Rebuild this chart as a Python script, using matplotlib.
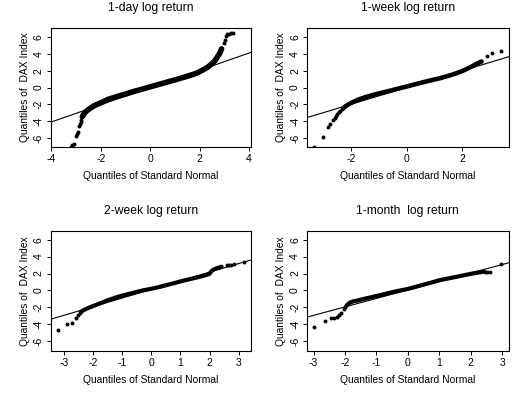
import matplotlib
matplotlib.use("Agg")
import matplotlib.pyplot as plt

plt.rcParams['font.family'] = ['Liberation Sans', 'DejaVu Sans']
plt.rcParams['axes.unicode_minus'] = False

titles = ["1-day log return", "1-week log return", "2-week log return", "1-month  log return"]

# dense middle part of each QQ curve (theoretical quantile, sample quantile)
day_body_x = [-2.75, -2.69, -2.62, -2.55, -2.45, -2.35, -2.2, -2.0, -1.7, -1.34, -1.0, -0.67, -0.33, 0.0,
              0.33, 0.67, 1.0, 1.34, 1.6, 1.88, 2.05, 2.21, 2.35, 2.48, 2.6, 2.69, 2.76, 2.82, 2.89]
day_body_y = [-3.45, -3.16, -2.9, -2.72, -2.5, -2.3, -2.05, -1.82, -1.4, -1.06, -0.78, -0.47, -0.2, 0.08,
              0.35, 0.63, 0.9, 1.19, 1.42, 1.7, 1.95, 2.2, 2.45, 2.77, 3.1, 3.48, 3.8, 4.07, 4.58]
day_tail_x = [-3.2, -3.15, -3.1, -3.0, -2.97, -2.93, -2.88, -2.85, -2.82, -2.79,
              2.98, 3.02, 3.06, 3.12, 3.2, 3.29, 3.35]
day_tail_y = [-7.0, -6.85, -6.65, -5.75, -5.55, -5.3, -4.6, -4.35, -4.05, -3.8,
              5.25, 5.65, 6.05, 6.28, 6.35, 6.4, 6.42]

week_body_x = [-2.28, -2.2, -2.1, -2.0, -1.8, -1.5, -1.2, -0.9, -0.6, -0.3, 0.0, 0.3, 0.6, 0.9,
               1.2, 1.5, 1.8, 2.0, 2.2, 2.4, 2.58, 2.7]
week_body_y = [-2.45, -2.2, -2.0, -1.82, -1.5, -1.15, -0.87, -0.62, -0.38, -0.12, 0.12, 0.38, 0.63, 0.87,
               1.1, 1.38, 1.7, 1.95, 2.25, 2.58, 2.9, 3.08]
week_tail_x = [-3.36, -3.03, -2.86, -2.76, -2.67, -2.6, -2.55, -2.5, -2.45, -2.4, -2.35, 2.88, 3.06, 3.39]
week_tail_y = [-7.0, -5.85, -4.7, -4.34, -3.83, -3.6, -3.4, -3.16, -2.95, -2.77, -2.6, 3.79, 4.07, 4.27]

twoweek_body_x = [-2.42, -2.31, -2.15, -2.0, -1.74, -1.45, -1.17, -0.88, -0.6, -0.3, 0.0, 0.3, 0.54, 0.82,
                  1.1, 1.4, 1.67, 1.85, 1.99, 2.07, 2.15, 2.24, 2.41]
twoweek_body_y = [-2.55, -2.3, -2.05, -1.85, -1.5, -1.1, -0.78, -0.5, -0.26, 0.0, 0.2, 0.43, 0.65, 0.9,
                  1.16, 1.4, 1.63, 1.8, 1.95, 2.3, 2.5, 2.62, 2.81]
twoweek_tail_x = [-3.2, -2.88, -2.71, -2.58, -2.5, -2.46, 2.58, 2.66, 2.72, 2.83, 3.17]
twoweek_tail_y = [-4.66, -3.99, -3.87, -3.28, -2.89, -2.7, 2.97, 3.0, 3.05, 3.09, 3.4]

month_body_x = [-1.96, -1.9, -1.85, -1.75, -1.62, -1.35, -1.09, -0.82, -0.56, -0.3, 0.0, 0.25, 0.5, 0.77,
                1.04, 1.3, 1.57, 1.85, 2.1, 2.3, 2.42]
month_body_y = [-1.83, -1.6, -1.44, -1.3, -1.2, -0.95, -0.73, -0.5, -0.26, -0.04, 0.18, 0.43, 0.69, 0.96,
                1.24, 1.43, 1.63, 1.85, 2.03, 2.15, 2.22]
month_tail_x = [-3.0, -2.63, -2.45, -2.36, -2.25, -2.18, -2.12, -2.04, -2.0, 2.47, 2.52, 2.61, 2.97]
month_tail_y = [-4.35, -3.56, -3.28, -3.2, -3.09, -2.89, -2.62, -2.22, -2.0, 2.15, 2.2, 2.18, 3.09]

# reference lines (intercept, slope)
line_params = [(0.0, 1.02), (0.0, 0.99), (0.12, 1.02), (0.06, 1.0)]

xlims = [(-4.03, 4.07), (-3.6, 3.68), (-3.45, 3.41), (-3.21, 3.21)]
xticks = [[-4, -2, 0, 2, 4], [-2, 0, 2], [-3, -2, -1, 0, 1, 2, 3], [-3, -2, -1, 0, 1, 2, 3]]
ylims = [(-7.05, 7.05), (-7.05, 7.05), (-7.15, 7.06), (-7.15, 7.06)]

bodies = [(day_body_x, day_body_y), (week_body_x, week_body_y),
          (twoweek_body_x, twoweek_body_y), (month_body_x, month_body_y)]
tails = [(day_tail_x, day_tail_y), (week_tail_x, week_tail_y),
         (twoweek_tail_x, twoweek_tail_y), (month_tail_x, month_tail_y)]
band_lw = [4.0, 3.3, 3.0, 3.0]

W, H = 524, 396
fig = plt.figure(figsize=(W / 100, H / 100), dpi=100)

# axes boxes in pixels: left, top, right, bottom
boxes = [(50.7, 28, 250.7, 147), (307, 28, 508.7, 147),
         (50.7, 230.7, 250.7, 351), (307, 230.7, 508.7, 351)]

for i in range(4):
    l, t, r, b = boxes[i]
    ax = fig.add_axes([l / W, 1 - b / H, (r - l) / W, (b - t) / H])
    x0, x1 = xlims[i]
    a, s = line_params[i]
    ax.plot([x0, x1], [a + s * x0, a + s * x1], color='black', lw=0.8)
    bx, by = bodies[i]
    ax.plot(bx, by, color='black', lw=band_lw[i], solid_capstyle='round', solid_joinstyle='round')
    tx, ty = tails[i]
    ax.scatter(tx, ty, s=8, color='black', linewidths=0)
    ax.set_xlim(xlims[i])
    ax.set_ylim(ylims[i])
    ax.set_xticks(xticks[i])
    ax.set_yticks([-6, -4, -2, 0, 2, 4, 6])
    ax.tick_params(labelsize=7.5, length=3, width=0.7, pad=2)
    for lab in ax.get_yticklabels():
        lab.set_rotation(90)
        lab.set_va('center')
    for sp in ax.spines.values():
        sp.set_linewidth(0.8)
    ax.set_title(titles[i], fontsize=8.7, pad=12)
    ax.set_xlabel('Quantiles of Standard Normal', fontsize=7.4, labelpad=5)
    ax.set_ylabel('Quantiles of  DAX Index', fontsize=7.4, labelpad=3)

fig.savefig('out.png', dpi=100)
